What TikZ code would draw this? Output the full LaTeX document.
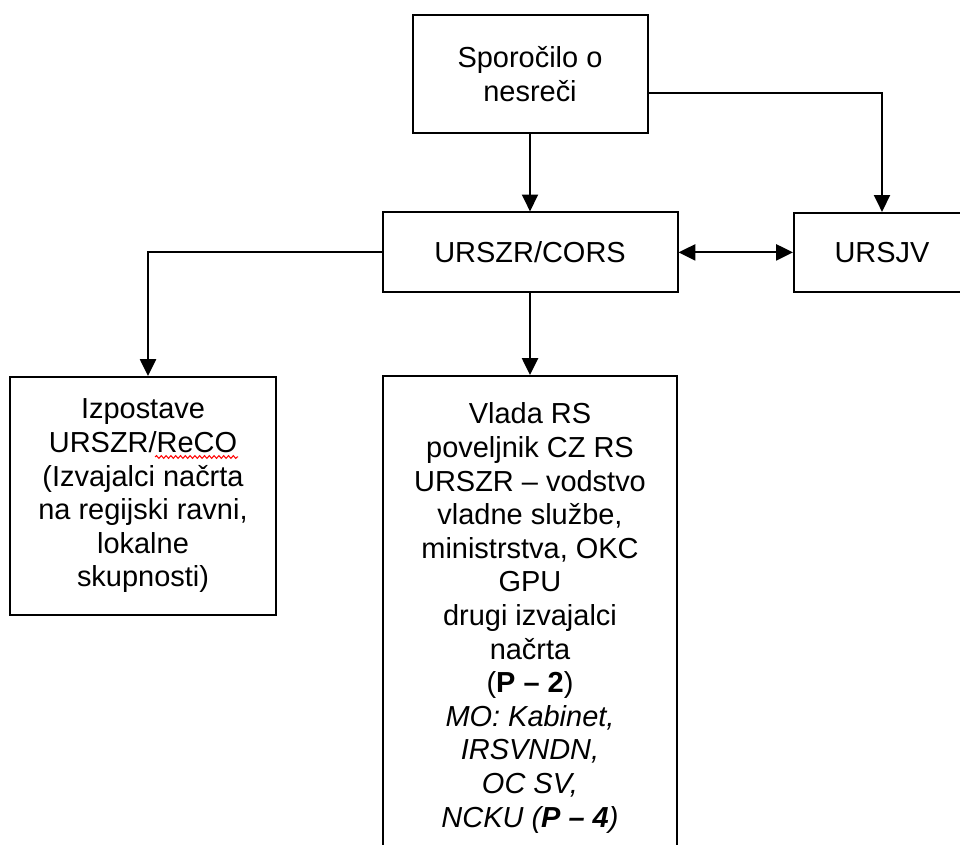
\documentclass[tikz,border=0pt]{standalone}
\usepackage{fontspec}
\setmainfont{Liberation Sans}
\usetikzlibrary{arrows.meta, decorations.pathmorphing}

\begin{document}
\begin{tikzpicture}[x=1mm, y=1mm,
    boxstyle/.style={draw=black, line width=0.5mm, align=center, inner sep=0pt,
      font=\fontsize{20.6}{23.9}\selectfont},
    arrowstyle/.style={draw=black, line width=0.5mm, -{Triangle[width=4mm, length=4.2mm]}},
    squiggle/.style={draw=red, line width=0.25mm,
      decorate, decoration={snake, amplitude=0.35mm, segment length=1.2mm}}]
  \useasboundingbox (0,0) rectangle (240,211);
  \clip (0,0) rectangle (240,211);

  \node[boxstyle, minimum width=58.75mm, minimum height=29.5mm] (sporocilo) at (132.5,192.5) {Sporočilo o\\nesreči};
  \node[boxstyle, minimum width=73.75mm, minimum height=20mm] (cors) at (132.5,147.9) {URSZR/CORS};
  \node[boxstyle, minimum width=44mm, minimum height=19.75mm] (ursjv) at (220.5,147.9) {URSJV};
  \node[boxstyle, minimum width=66.5mm, minimum height=59.5mm] (izpostave) at (35.75,87) {Izpostave\\URSZR/ReCO\\(Izvajalci načrta\\na regijski ravni,\\lokalne\\skupnosti)};
  \node[boxstyle, anchor=north, minimum width=73.5mm, minimum height=121mm] (vlada) at (132.5,117.25) {Vlada RS\\poveljnik CZ RS\\URSZR – vodstvo\\vladne službe,\\ministrstva, OKC\\GPU\\drugi izvajalci\\načrta\\(\textbf{P – 2})\\\textit{MO: Kabinet,}\\\textit{IRSVNDN,}\\\textit{OC SV,}\\\textit{NCKU (\textbf{P – 4})}};

  \coordinate (sporocilo-out) at ([yshift=-4.75mm]sporocilo.east);
  \coordinate (izpostave-in) at ([xshift=1.25mm]izpostave.north);

  \draw[arrowstyle] (sporocilo.south) -- (cors.north);
  \draw[arrowstyle] (sporocilo-out) -| (ursjv.north);
  \draw[arrowstyle, {Triangle[width=4mm, length=4.2mm]}-{Triangle[width=4mm, length=4.2mm]}] (cors.east) -- (ursjv.west);
  \draw[arrowstyle] (cors.west) -| (izpostave-in);
  \draw[arrowstyle] (cors.south) -- (vlada.north);

  \draw[squiggle] ([shift={(3mm,9.75mm)}]izpostave.center) -- ++(20.75,0);
\end{tikzpicture}
\end{document}
